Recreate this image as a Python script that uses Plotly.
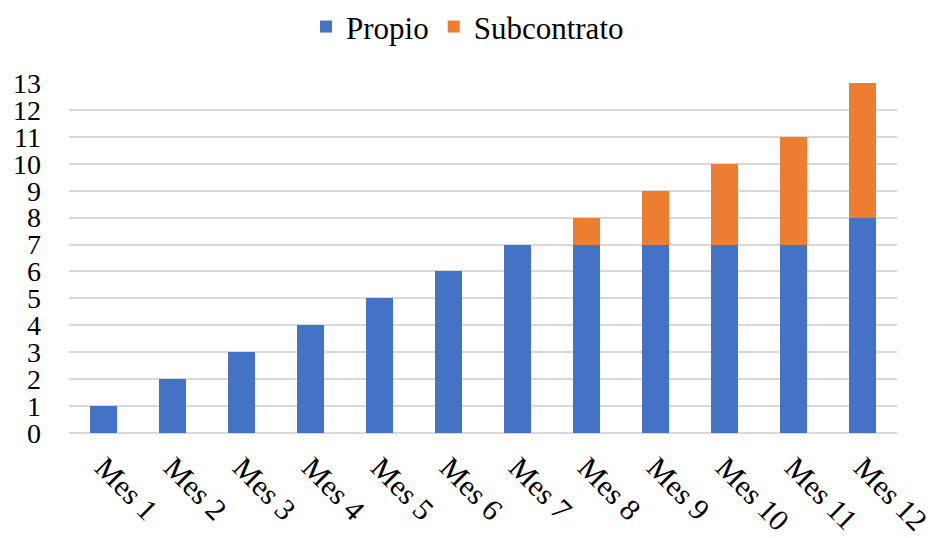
import plotly.graph_objects as go

# Monthly workload split between own staff and subcontracted staff
meses = ["Mes 1", "Mes 2", "Mes 3", "Mes 4", "Mes 5", "Mes 6",
         "Mes 7", "Mes 8", "Mes 9", "Mes 10", "Mes 11", "Mes 12"]
propio = [1, 2, 3, 4, 5, 6, 7, 7, 7, 7, 7, 8]
subcontrato = [0, 0, 0, 0, 0, 0, 0, 1, 2, 3, 4, 5]
y_ticks = list(range(0, 14))

FONT = "Liberation Serif"
BLUE = "#4472C4"
ORANGE = "#ED7D31"
GRID = "#D9D9D9"

fig = go.Figure()
fig.add_trace(go.Bar(x=meses, y=propio, name="Propio",
                     marker=dict(color=BLUE, line=dict(width=0))))
fig.add_trace(go.Bar(x=meses, y=subcontrato, name="Subcontrato",
                     marker=dict(color=ORANGE, line=dict(width=0))))

fig.update_layout(
    barmode="stack",
    bargap=0.6,
    width=935, height=538,
    margin=dict(l=69, r=38, t=83, b=105, autoexpand=False),
    paper_bgcolor="white",
    plot_bgcolor="white",
    font=dict(family=FONT, size=28, color="black"),
    legend=dict(orientation="h", x=0.5, xanchor="center", xref="container",
                y=0.95, yanchor="middle", yref="container",
                font=dict(family=FONT, size=31, color="black"),
                itemwidth=30, traceorder="normal"),
    xaxis=dict(tickangle=45, showgrid=False, showline=False,
               automargin=False, ticklabelstandoff=10,
               tickfont=dict(family=FONT, size=30, color="black")),
    yaxis=dict(range=[0, 13], tickvals=y_ticks, showgrid=True,
               gridcolor=GRID, gridwidth=1.5, zeroline=True,
               zerolinecolor=GRID, zerolinewidth=1.5, showline=False,
               automargin=False, ticklabelstandoff=27,
               tickfont=dict(family=FONT, size=28, color="black")),
    showlegend=True,
)

fig.write_html("out.html")
